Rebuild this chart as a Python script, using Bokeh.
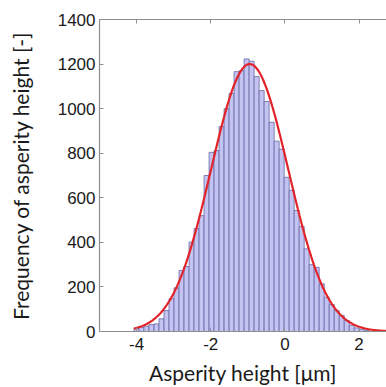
from bokeh.plotting import figure
from bokeh.models import LinearAxis, FixedTicker, Range1d, CustomLabelingPolicy
from bokeh.embed import file_html
from bokeh.resources import INLINE
import numpy as np

# Histogram of asperity heights (bin counts, equal-width bins)
bin_start = -4.07
bin_width = 0.135
counts = [15, 19, 24, 31, 34, 57, 94, 147, 196, 274,
          292, 401, 462, 520, 700, 804, 812, 920, 1000, 1068,
          1166, 1170, 1223, 1213, 1144, 1081, 1032, 939, 854, 818,
          692, 633, 543, 471, 371, 300, 288, 214, 154, 121,
          94, 72, 49, 28, 16, 10, 5]

# Fitted normal distribution (mean, std, peak height)
fit_mu = -0.95
fit_sigma = 1.04
fit_peak = 1200.0

x_ticks = [-4, -2, 0, 2]
x_tick_labels = ["-4", "-2", "0", "2"]
y_ticks = [0, 200, 400, 600, 800, 1000, 1200, 1400]
y_max = 1400

edges = bin_start + bin_width * np.arange(len(counts) + 1)

p = figure(width=386, height=387, output_backend="svg", toolbar_location=None,
           x_range=Range1d(-5, 2.74), y_range=Range1d(0, y_max),
           x_axis_location=None, y_axis_location=None,
           min_border_left=99, min_border_right=0, min_border_top=19,
           min_border_bottom=56)
p.grid.visible = False
p.outline_line_color = None
p.background_fill_color = "white"

p.quad(left=edges[:-1], right=edges[1:], bottom=0, top=counts,
       fill_color="#c4c4f2", line_color="#6767a6", line_width=0.8)

xs = np.linspace(edges[0], 2.74, 300)
ys = fit_peak * np.exp(-(xs - fit_mu) ** 2 / (2 * fit_sigma ** 2))
p.line(xs, ys, line_color="#e3232a", line_width=2.2)

axis_col = "#8e8e8e"
tick_font = "Liberation Sans"
label_font = "Lato"

left = LinearAxis(ticker=FixedTicker(ticks=y_ticks),
                  axis_label="Frequency of asperity height [-]")
bottom = LinearAxis(ticker=FixedTicker(ticks=x_ticks),
                    axis_label="Asperity height [\u03bcm]")
bottom.major_label_overrides = dict(zip(x_ticks, x_tick_labels))
# top border of the box: ticks only, no labels
top = LinearAxis(ticker=FixedTicker(ticks=x_ticks),
                 major_label_policy=CustomLabelingPolicy(
                     code="for (let i = 0; i < indices.size; i++) indices.unset(i); return indices"))

for ax in (left, bottom, top):
    ax.axis_line_color = axis_col
    ax.axis_line_width = 1.2
    ax.major_tick_line_color = axis_col
    ax.major_tick_in = 4
    ax.major_tick_out = 0
    ax.minor_tick_line_color = None
    ax.major_label_text_font = tick_font
    ax.major_label_text_font_size = "17px"
    ax.major_label_text_color = "#1a1a1a"
    ax.axis_label_text_font = label_font
    ax.axis_label_text_font_size = "21px"
    ax.axis_label_text_font_style = "normal"
    ax.axis_label_text_color = "#1a1a1a"

left.major_label_standoff = 4
left.axis_label_standoff = 22
bottom.major_label_standoff = 6
bottom.axis_label_standoff = 7
top.major_label_standoff = 0

p.add_layout(left, "left")
p.add_layout(bottom, "below")
p.add_layout(top, "above")

open("out.html", "w").write(file_html(p, INLINE))
